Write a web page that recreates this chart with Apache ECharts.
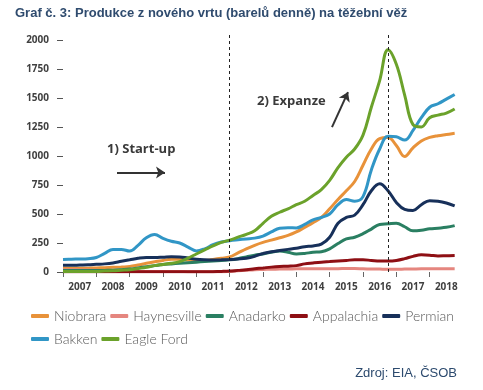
<!DOCTYPE html>
<html><head><meta charset="utf-8">
<script src="https://cdn.jsdelivr.net/npm/echarts@6/dist/echarts.min.js"></script>
<style>html,body{margin:0;padding:0;background:#fff}#c{width:483px;height:390px}</style>
</head><body><div id="c"></div>
<script>
const quarters = [2007,2007.25,2007.5,2007.75,2008,2008.25,2008.5,2008.75,2009,2009.25,2009.5,2009.75,
  2010,2010.25,2010.5,2010.75,2011,2011.25,2011.5,2011.75,2012,2012.25,2012.5,2012.75,
  2013,2013.25,2013.5,2013.75,2014,2014.25,2014.5,2014.75,2015,2015.25,2015.5,2015.75,
  2016,2016.25,2016.5,2016.75,2017,2017.25,2017.5,2017.75,2018,2018.25,2018.5,2018.75];

const niobrara = [32,32,32,33,35,37,40,43,47,60,75,88,100,110,110,103,98,100,108,118,130,165,200,230,
  255,275,295,315,345,385,425,470,545,625,700,780,920,1060,1150,1160,1090,995,1070,1130,1160,1175,1185,1195];
const haynesville = [20,20,18,17,15,12,10,8,6,5,5,4,4,4,4,3,3,3,2,2,5,10,15,20,
  22,24,25,26,27,28,28,28,29,29,30,30,28,26,25,24,24,25,26,27,27,28,28,28];
const anadarko = [12,12,12,12,12,14,16,20,25,35,45,55,65,70,75,80,85,90,95,100,105,115,130,145,
  155,170,180,170,155,160,170,175,200,245,285,300,330,370,410,415,420,390,355,360,372,378,385,400];
const appalachia = [2,2,2,2,2,2,2,2,2,2,2,2,2,2,2,2,2,2,3,5,8,14,20,28,
  35,42,47,50,55,70,78,85,90,95,100,105,105,100,95,95,100,115,135,148,145,138,140,142];
const permian = [58,58,60,62,66,70,78,92,105,118,125,125,128,132,130,120,110,105,103,105,108,112,118,135,
  160,175,185,195,205,218,225,240,300,420,470,490,580,700,760,700,600,540,530,580,615,610,595,570];
const bakken = [107,110,112,115,125,160,195,195,180,230,295,323,290,265,250,215,182,200,235,258,270,278,285,292,
  310,345,378,382,380,410,450,470,500,580,625,610,650,880,1060,1170,1165,1137,1220,1330,1420,1450,1490,1530];
const eagleFord = [5,5,5,5,5,8,10,15,20,30,40,55,65,75,90,120,155,190,225,255,275,300,325,355,
  420,480,515,545,580,610,660,710,790,900,990,1060,1180,1420,1650,1915,1790,1525,1270,1250,1330,1352,1370,1405];

const seriesNames = ['Niobrara','Haynesville','Anadarko','Appalachia','Permian','Bakken','Eagle Ford'];
const seriesValues = [niobrara, haynesville, anadarko, appalachia, permian, bakken, eagleFord];
const seriesColors = ['#E8923A','#E5867F','#2A7F62','#8E0F14','#17305A','#3196C6','#6BA22B'];

const yearTicks = [2007,2008,2009,2010,2011,2012,2013,2014,2015,2016,2017,2018];
const yearLabelPos = [2007.5,2008.5,2009.5,2010.5,2011.5,2012.5,2013.5,2014.5,2015.5,2016.5,2017.5,2018.5];
const yTicks = [0,250,500,750,1000,1250,1500,1750,2000];
const phaseDividers = [2012, 2016.75];
const startupArrow = [[2008.62, 858],[2010.06, 858]];
const expanzeArrow = [[2015.07, 1249],[2015.55, 1551]];

const chart = echarts.init(document.getElementById('c'), null, {renderer:'canvas'});

const series = seriesNames.map((name, k) => ({
  name, type:'line', smooth:0.4, symbol:'none', animation:false,
  lineStyle:{width:3, color:seriesColors[k]}, itemStyle:{color:seriesColors[k]},
  data: quarters.map((q,i)=>[q, seriesValues[k][i]])
}));

series.push({
  type:'line', data:[], silent:true, animation:false, clip:false, color:'#222',
  itemStyle:{color:'#222'},
  markLine:{ silent:true, animation:false, symbol:['none','none'], label:{show:false},
    lineStyle:{color:'#222', type:[3,3], width:1},
    data: phaseDividers.map(x => [{coord:[x,0]},{coord:[x,2060]}]) }
});
series.push({
  type:'line', data:[], silent:true, animation:false, clip:false, color:'#333',
  itemStyle:{color:'#333'}, lineStyle:{color:'#333'},
  markLine:{ silent:true, animation:false, symbol:['none','arrow'], symbolSize:9, label:{show:false},
    itemStyle:{color:'#333'},
    lineStyle:{color:'#333', type:'solid', width:2},
    data: [
      [{coord:startupArrow[0]},{coord:startupArrow[1]}],
      [{coord:expanzeArrow[0]},{coord:expanzeArrow[1]}]
    ] }
});

const legendText = {fontFamily:'Lato', fontSize:14, fontWeight:300, color:'#595959'};

chart.setOption({
  animation:false,
  title:{ text:'Graf č. 3: Produkce z nového vrtu (barelů denně) na těžební věž', left:15, top:7, padding:0,
    textStyle:{fontFamily:'Liberation Sans', fontSize:13, fontWeight:'bold', color:'#2F4B6E'} },
  grid:{ left:63, right:20, top:33, bottom:118 },
  legend:[
    { data:seriesNames.slice(0,5), left:31, top:309, itemWidth:18, itemHeight:4, itemGap:4, icon:'roundRect', padding:0, textStyle:legendText },
    { data:seriesNames.slice(5), left:31, top:332, itemWidth:18, itemHeight:4, itemGap:4, icon:'roundRect', padding:0, textStyle:legendText }
  ],
  xAxis:{ type:'value', min:2007, max:2019, offset:3,
    axisLine:{show:false}, splitLine:{show:false},
    axisTick:{show:true, customValues:yearTicks, length:5, lineStyle:{color:'#666', width:1}},
    axisLabel:{customValues:yearLabelPos, margin:7, formatter:v=>String(Math.floor(v)),
      fontFamily:'Open Sans', fontWeight:'bold', fontSize:10, color:'#404040'} },
  yAxis:{ type:'value', min:0, max:2060,
    axisLine:{show:false}, splitLine:{show:false},
    axisTick:{show:true, customValues:yTicks, length:6, lineStyle:{color:'#555', width:1}},
    axisLabel:{customValues:yTicks, margin:14, formatter:v=>String(v),
      fontFamily:'Open Sans', fontWeight:'bold', fontSize:10, color:'#404040'} },
  graphic:[
    { type:'text', left:107, top:143, style:{text:'1) Start-up', font:'bold 13px "Open Sans"', fill:'#3a3a3a'} },
    { type:'text', left:257, top:95, style:{text:'2) Expanze', font:'bold 13px "Open Sans"', fill:'#3a3a3a'} },
    { type:'text', right:26, top:367, style:{text:'Zdroj: EIA, ČSOB', font:'13px "Liberation Sans"', fill:'#2C4A6E'} }
  ],
  series
});
</script></body></html>
